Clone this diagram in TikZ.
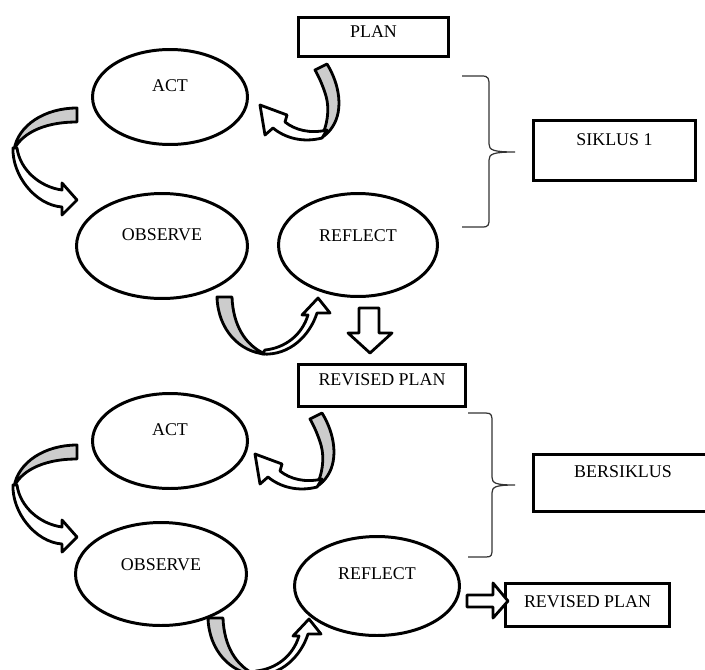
\documentclass[tikz,border=0pt]{standalone}
\usepackage{fontspec}
\setmainfont{Liberation Serif}
\usepackage{tikz}
\usetikzlibrary{shapes,positioning}
\newcommand{\bordw}{1.7pt}
\newcommand{\arrw}{1.6pt}
\newcommand{\txtfont}{\fontsize{10.2pt}{12pt}\selectfont}
% curved arrows of one cycle (pixel coordinates)
\newcommand{\planarrow}{%
    \filldraw[fill=gray!40] (315,70) -- (327,64) .. controls (340,85) and (343,110) .. (333,126)
        .. controls (330,131) and (326,135) .. (321,138) .. controls (327,126) and (330,110) .. (326,96)
        .. controls (323,86) and (319,77) .. (315,70) -- cycle;
    \filldraw[fill=white] (322,138) .. controls (303,143) and (285,138) .. (273,128) -- (265,135)
        -- (260,105) -- (287,115) -- (285,122) .. controls (295,130) and (310,134) .. (327,130) -- cycle;
}
\newcommand{\actarrow}{%
    \filldraw[fill=gray!40] (77,108) -- (77,122) .. controls (40,122) and (20,136) .. (14,150)
        .. controls (18,125) and (45,108) .. (77,108) -- cycle;
    \filldraw[fill=white] (13,148) .. controls (12,175) and (35,205) .. (62,207) -- (62,215)
        -- (77,200) -- (62,183) -- (62,190) .. controls (40,187) and (20,170) .. (17,148) -- cycle;
}
\newcommand{\obsarrow}{%
    \filldraw[fill=gray!40] (217,297) -- (232,297) .. controls (233,325) and (245,345) .. (265,354)
        .. controls (240,352) and (218,330) .. (217,297) -- cycle;
    \filldraw[fill=white] (262,354) .. controls (290,356) and (310,335) .. (317,313) -- (330,313)
        -- (318,298) -- (302,315) -- (308,315) .. controls (302,335) and (285,348) .. (265,350) -- cycle;
}

\begin{document}
\begin{tikzpicture}[x=0.02cm,y=-0.02cm]
    %\draw[help lines] (0,0) grid[step=50] (705,669);
    \useasboundingbox (0,0) rectangle (705,669);
    \clip (0,0) rectangle (705,669);
    \tikzset{
        cyc/.style={ellipse, draw, line width=\bordw, inner sep=0pt, text depth=12.5pt, font=\txtfont},
        lbl/.style={rectangle, draw, line width=\bordw, inner sep=0pt, font=\txtfont},
        blk/.style={line width=\arrw, line join=round},
        brc/.style={line width=0.7pt, black!80}
    }

    % first cycle
    \node[lbl, minimum width=3.0cm, minimum height=0.78cm, text depth=5.7pt] (p1) at (373.5,37) {PLAN};
    \node[cyc, minimum width=3.1cm, minimum height=1.9cm] (a1) at (170,97) {ACT};
    \node[cyc, minimum width=3.42cm, minimum height=2.1cm] (o1) at (162,246) {OBSERVE};
    \node[cyc, minimum width=3.18cm, minimum height=2.06cm, text depth=11.3pt] (r1) at (358,245) {REFLECT};
    \node[lbl, minimum width=3.24cm, minimum height=1.2cm, text depth=11.9pt] (s1) at (614.5,150.5) {SIKLUS 1};

    % second cycle
    \node[lbl, minimum width=3.34cm, minimum height=0.84cm, text depth=6.2pt] (p2) at (382,385.5) {REVISED PLAN};
    \node[cyc, minimum width=3.1cm, minimum height=1.9cm] (a2) at (170,441) {ACT};
    \node[cyc, minimum width=3.42cm, minimum height=2.06cm, text depth=11.3pt] (o2) at (161,574) {OBSERVE};
    \node[cyc, minimum width=3.3cm, minimum height=1.98cm, text depth=14.7pt] (r2) at (377,586) {REFLECT};
    \node[lbl, minimum width=3.58cm, minimum height=1.14cm, text depth=12.5pt] (s2) at (623,483) {BERSIKLUS};
    \node[lbl, minimum width=3.28cm, minimum height=0.86cm, text depth=3.4pt] (q2) at (587.5,605) {REVISED PLAN};

    % curved arrows
    \begin{scope}[blk]
        \planarrow
        \actarrow
        \obsarrow
    \end{scope}
    \begin{scope}[blk, shift={(-5,349)}]
        \planarrow
    \end{scope}
    \begin{scope}[blk, shift={(0,337)}]
        \actarrow
    \end{scope}
    \begin{scope}[blk, shift={(-9,321)}]
        \obsarrow
    \end{scope}

    % block arrows
    \filldraw[blk, fill=white] (359,308) -- (379,308) -- (379,333) -- (392,333) -- (370,353)
        -- (348,333) -- (359,333) -- cycle;
    \filldraw[blk, fill=white] (467,595) -- (493,595) -- (493,583) -- (508,601) -- (493,618)
        -- (493,607) -- (467,607) -- cycle;

    % braces
    \draw[brc] (462,76) -- (482,76) .. controls (489,76) and (489,79) .. (489,86) -- (489,144)
        .. controls (489,150) and (493,152) .. (515,152) .. controls (493,152) and (489,154) .. (489,160)
        -- (489,218) .. controls (489,225) and (489,227) .. (482,227) -- (462,227);
    \draw[brc] (468,413) -- (486,413) .. controls (492,413) and (492,416) .. (492,422) -- (492,477)
        .. controls (492,483) and (495,485) .. (515,485) .. controls (495,485) and (492,487) .. (492,493)
        -- (492,548) .. controls (492,555) and (492,557) .. (486,557) -- (468,557);
\end{tikzpicture}
\end{document}
